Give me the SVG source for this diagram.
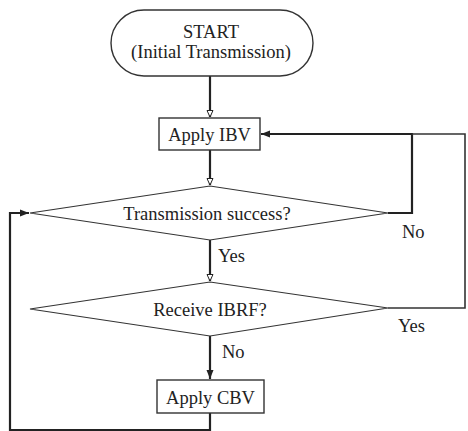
<svg xmlns="http://www.w3.org/2000/svg" width="468" height="431" viewBox="0 0 468 431">
<style>
text{font-family:"Liberation Serif","Times New Roman",serif;font-size:18.5px;fill:#222;}
.c{text-anchor:middle;}
.shape{fill:#fff;stroke:#333;stroke-width:1.4;}
.dia{fill:#fff;stroke:#333;stroke-width:1.1;}
.ln{fill:none;stroke:#222;stroke-width:2.2;}
.ln2{fill:none;stroke:#333;stroke-width:1.6;}
</style>
<defs>
<marker id="ho" markerUnits="userSpaceOnUse" markerWidth="10" markerHeight="10" refX="6.5" refY="3" orient="auto" overflow="visible">
<path d="M0,0 L6.5,3 L0,6 z" fill="#fff" stroke="#222" stroke-width="1"/>
</marker>
<marker id="fi" markerUnits="userSpaceOnUse" markerWidth="12" markerHeight="10" refX="9" refY="3.5" orient="auto" overflow="visible">
<path d="M0,0 L9,3.5 L0,7 z" fill="#222"/>
</marker>
</defs>
<g id="connectors">
<path class="ln" d="M210,76 V117" marker-end="url(#ho)"/>
<path class="ln" d="M210,150 V185" marker-end="url(#ho)"/>
<path class="ln" d="M210,240 V281" marker-end="url(#ho)"/>
<path class="ln" d="M210,336 V379" marker-end="url(#fi)"/>
<path class="ln" d="M388,213 H412 V134 H261" marker-end="url(#fi)"/>
<path class="ln2" d="M388,308 H465 V134 H412"/>
<path class="ln" d="M210,413 V430 H10 V213 H29" marker-end="url(#fi)"/>
</g>
<g id="start">
<rect class="shape" x="111" y="10" width="202" height="66" rx="33" ry="33"/>
<text class="c" x="211" y="38">START</text>
<text class="c" x="211" y="58">(Initial Transmission)</text>
</g>
<g id="applyIBV">
<rect class="shape" x="159" y="118" width="101" height="32"/>
<text class="c" x="209.5" y="141">Apply IBV</text>
</g>
<g id="txSuccess">
<polygon class="dia" points="30,213 210,186 388,213 210,240"/>
<text class="c" x="207" y="220">Transmission success?</text>
</g>
<g id="receiveIBRF">
<polygon class="dia" points="30,309 210,282 388,308 210,336"/>
<text class="c" x="210" y="316">Receive IBRF?</text>
</g>
<g id="applyCBV">
<rect class="shape" x="157" y="380" width="107" height="33"/>
<text class="c" x="210.5" y="404">Apply CBV</text>
</g>
<g id="labels">
<text x="402" y="238">No</text>
<text x="218" y="262">Yes</text>
<text x="398" y="332">Yes</text>
<text x="222" y="358">No</text>
</g>
</svg>
